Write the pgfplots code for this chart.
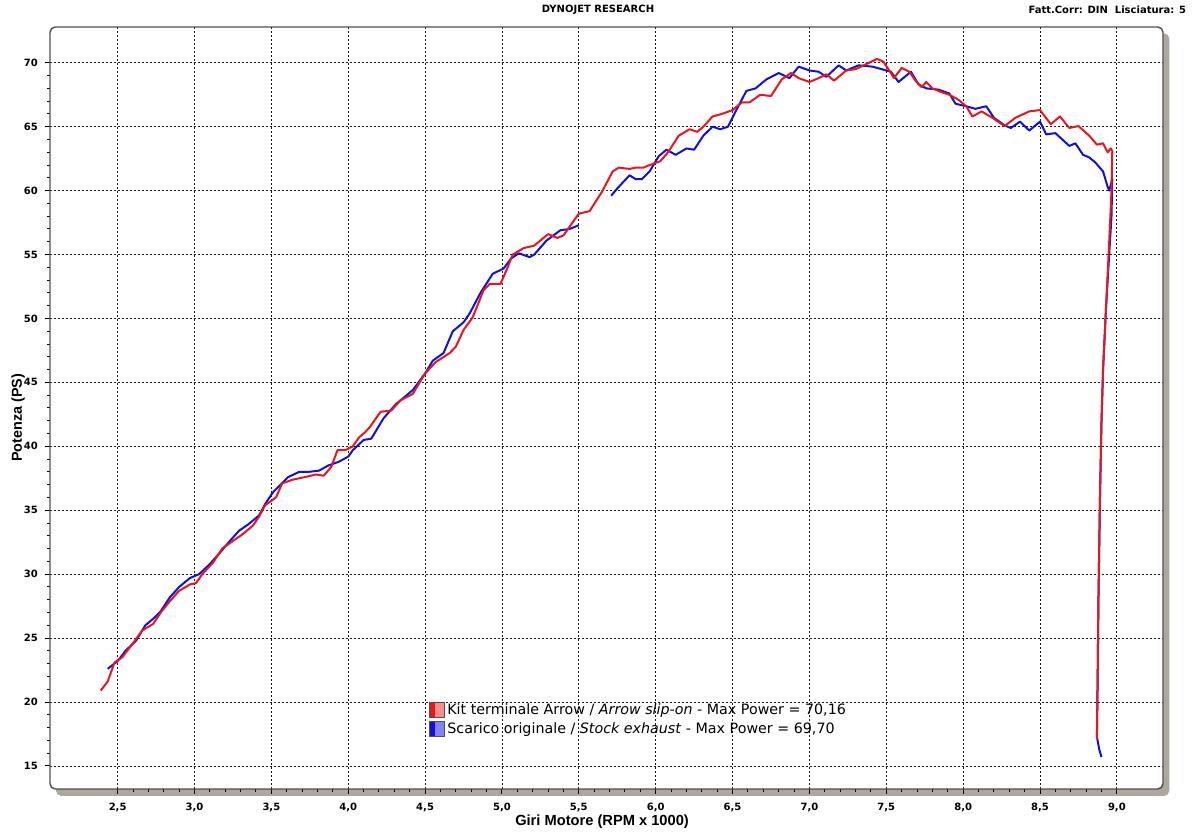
\documentclass[border=0pt]{standalone}
\usepackage{fontspec}
\setmainfont{DejaVu Sans}
\newfontfamily\labfont{Liberation Sans}
\usepackage{pgfplots}
\pgfplotsset{compat=1.18}
\definecolor{dynred}{RGB}{232,22,30}
\definecolor{dynblue}{RGB}{18,18,215}
\definecolor{dynredl}{RGB}{250,140,140}
\definecolor{dynbluel}{RGB}{130,130,250}
\definecolor{shadowgray}{RGB}{172,168,158}
\definecolor{framegray}{RGB}{80,80,80}
\begin{document}
\begin{tikzpicture}
\useasboundingbox (0,0) rectangle (900pt,628.5pt);
% shadow and frame background
\fill[shadowgray, rounded corners=4pt] (42pt,31.5pt) rectangle (877pt,603.5pt);
\fill[white, rounded corners=4pt] (37.5pt,36.75pt) rectangle (872.25pt,608.25pt);
\node[font=\fontsize{7.5}{9}\selectfont\bfseries] at (448.5pt,621.5pt) {DYNOJET RESEARCH};
\node[font=\fontsize{7.5}{9}\selectfont\bfseries, anchor=east] at (893pt,621.5pt) {Fatt.Corr: DIN\ \ Lisciatura: 5};
\begin{axis}[
  at={(37.5pt,36.75pt)}, anchor=south west,
  scale only axis, width=834.75pt, height=571.5pt,
  xmin=2.06, xmax=9.30, ymin=13.2, ymax=72.8,
  xtick={2.5,3,...,9.01}, ytick={15,20,...,70},
  minor x tick num=4, minor y tick num=4,
  xtick pos=bottom, ytick pos=left,
  tick align=outside,
  major tick length=3.75pt, minor tick length=2.25pt,
  every tick/.style={black, line width=0.75pt},
  axis line style={draw=none},
  grid=major,
  major grid style={black!90, line width=0.7pt, dash pattern=on 1.5pt off 1.5pt},
  /pgf/number format/assume math mode=true,
  x tick label style={font=\fontsize{7.5}{9}\selectfont\bfseries, yshift=-3.5pt,
     /pgf/number format/.cd, fixed, fixed zerofill, precision=1, use comma},
  y tick label style={font=\fontsize{7.5}{9}\selectfont\bfseries, xshift=-1.8pt},
  xlabel={Giri Motore (RPM x 1000)},
  ylabel={Potenza (PS)},
  xlabel style={font=\labfont\fontsize{11}{13}\selectfont\bfseries, at={(axis description cs:0.496,-0.0433)}, anchor=center},
  ylabel style={font=\labfont\fontsize{10.8}{13}\selectfont\bfseries, at={(axis description cs:-0.0285,0.487)}, anchor=center},
  unbounded coords=jump,
  legend style={at={(axis description cs:0.340,0.1150)}, anchor=north west, draw=none, fill=none,
     font=\fontsize{10.7}{12}\selectfont, row sep=1.5pt, inner sep=0pt,
     nodes={inner sep=1.5pt}},
  legend cell align=left,
  reverse legend,
  line join=round,
]
\addplot[dynblue, line width=1.5pt,
  legend image code/.code={
    \fill[dynblue] (0pt,-5.5pt) rectangle (4.5pt,5.5pt);
    \fill[dynbluel] (4.5pt,-5.5pt) rectangle (11pt,5.5pt);
    \draw[framegray, line width=0.6pt] (0pt,-5.5pt) rectangle (11pt,5.5pt);}]
coordinates {
(2.435,22.6)(2.50,23.2)(2.55,24.0)(2.62,24.8)(2.68,26.0)(2.73,26.5)(2.78,27.1)(2.84,28.2)(2.90,29.0)(2.97,29.7)(3.03,30.0)(3.10,30.8)(3.16,31.6)(3.23,32.6)(3.29,33.4)(3.35,33.9)(3.42,34.6)(3.46,35.5)(3.51,36.4)(3.56,37.0)(3.61,37.6)(3.68,38.0)(3.74,38.0)(3.81,38.1)(3.87,38.5)(3.94,38.8)(4.00,39.2)(4.03,39.7)(4.10,40.5)(4.15,40.6)(4.23,42.2)(4.31,43.3)(4.42,44.4)(4.50,45.7)(4.55,46.7)(4.62,47.3)(4.68,49.0)(4.75,49.7)(4.79,50.4)(4.86,52.0)(4.94,53.5)(5.01,53.9)(5.06,54.7)(5.11,55.1)(5.18,54.8)(5.21,55.0)(5.29,56.1)(5.38,56.9)(5.44,57.0)(5.50,57.3)
(5.60,nan)
(5.71,59.6)(5.76,60.3)(5.83,61.2)(5.87,60.9)(5.91,60.9)(5.96,61.5)(6.02,62.7)(6.07,63.2)(6.13,62.8)(6.20,63.3)(6.25,63.2)(6.31,64.3)(6.37,65.0)(6.42,64.8)(6.47,65.0)(6.52,66.2)(6.59,67.8)(6.65,68.0)(6.72,68.7)(6.80,69.2)(6.87,68.8)(6.93,69.7)(7.00,69.4)(7.06,69.3)(7.11,68.9)(7.19,69.8)(7.24,69.4)(7.32,69.8)(7.41,69.7)(7.47,69.5)(7.53,69.3)(7.58,68.5)(7.66,69.3)(7.71,68.3)(7.76,68.0)(7.84,67.9)(7.91,67.6)(7.95,66.8)(8.02,66.6)(8.08,66.4)(8.15,66.6)(8.20,65.7)(8.27,65.1)(8.31,64.9)(8.37,65.4)(8.43,64.7)(8.50,65.4)(8.54,64.4)(8.60,64.5)(8.69,63.5)(8.73,63.7)(8.78,62.8)(8.82,62.6)(8.86,62.2)(8.91,61.5)(8.94,60.3)(8.95,60.0)(8.97,60.9)
(8.965,58)(8.95,55)(8.93,51)(8.91,46)(8.90,42)(8.89,36)(8.88,28)(8.875,22)(8.87,17.3)(8.885,16.3)(8.90,15.7)
};
\addlegendentry{Scarico originale / \textit{Stock exhaust} - Max Power = 69,70}
\addplot[dynred, line width=1.5pt,
  legend image code/.code={
    \fill[dynred] (0pt,-5.5pt) rectangle (4.5pt,5.5pt);
    \fill[dynredl] (4.5pt,-5.5pt) rectangle (11pt,5.5pt);
    \draw[framegray, line width=0.6pt] (0pt,-5.5pt) rectangle (11pt,5.5pt);}]
coordinates {
(2.39,20.9)(2.435,21.6)(2.48,23.1)(2.53,23.5)(2.60,24.6)(2.66,25.6)(2.73,26.1)(2.78,27.0)(2.84,27.9)(2.90,28.7)(2.97,29.2)(3.01,29.3)(3.05,30.0)(3.12,30.9)(3.18,32.0)(3.25,32.6)(3.31,33.1)(3.38,33.8)(3.42,34.5)(3.46,35.4)(3.53,36.0)(3.57,37.1)(3.64,37.4)(3.72,37.6)(3.79,37.8)(3.84,37.7)(3.89,38.4)(3.93,39.7)(3.98,39.7)(4.03,40.0)(4.07,40.7)(4.11,41.1)(4.14,41.5)(4.21,42.7)(4.28,42.8)(4.34,43.6)(4.42,44.1)(4.50,45.7)(4.57,46.6)(4.66,47.3)(4.70,47.8)(4.75,49.1)(4.81,50.1)(4.88,52.2)(4.92,52.7)(4.99,52.7)(5.03,53.8)(5.07,55.0)(5.14,55.5)(5.21,55.7)(5.30,56.6)(5.36,56.3)(5.40,56.5)(5.50,58.2)(5.57,58.4)(5.65,59.9)(5.72,61.5)(5.76,61.8)(5.83,61.7)(5.87,61.8)(5.92,61.8)(5.96,62.0)(6.03,62.3)(6.08,63.0)(6.15,64.3)(6.22,64.8)(6.27,64.6)(6.31,65.0)(6.37,65.8)(6.43,66.0)(6.50,66.3)(6.56,66.9)(6.61,66.9)(6.68,67.5)(6.75,67.4)(6.82,68.7)(6.88,69.2)(6.93,68.8)(7.00,68.5)(7.06,68.8)(7.11,69.1)(7.16,68.6)(7.24,69.4)(7.30,69.5)(7.37,69.9)(7.44,70.3)(7.48,70.1)(7.53,69.2)(7.55,68.8)(7.60,69.6)(7.65,69.3)(7.69,68.6)(7.73,68.1)(7.76,68.5)(7.80,68.0)(7.86,67.7)(7.91,67.5)(7.97,67.1)(8.02,66.6)(8.06,65.8)(8.12,66.2)(8.19,65.7)(8.27,65.05)(8.34,65.7)(8.43,66.2)(8.50,66.3)(8.57,65.2)(8.63,65.8)(8.69,64.9)(8.75,65.05)(8.82,64.3)(8.87,63.6)(8.91,63.7)(8.94,63.0)(8.96,63.3)(8.97,63.1)
(8.965,60)(8.95,56)(8.93,51)(8.91,46)(8.90,42)(8.89,36)(8.88,28)(8.875,22)(8.87,17.1)
};
\addlegendentry{Kit terminale Arrow / \textit{Arrow slip-on} - Max Power = 70,16}
\end{axis}
\draw[framegray, line width=1.1pt, rounded corners=4pt] (37.5pt,36.75pt) rectangle (872.25pt,608.25pt);
\end{tikzpicture}
\end{document}
